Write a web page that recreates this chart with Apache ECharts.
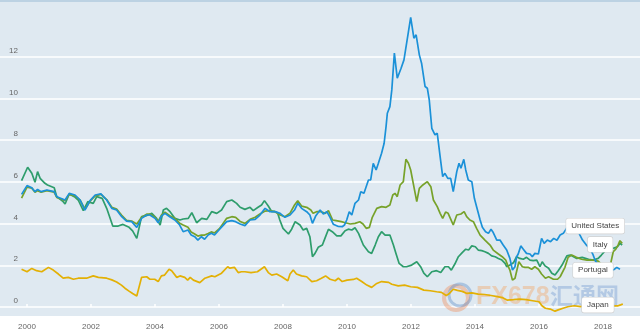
<!DOCTYPE html>
<html><head><meta charset="utf-8">
<script src="https://cdn.jsdelivr.net/npm/echarts@6/dist/echarts.min.js"></script>
<style>html,body{margin:0;padding:0;background:#fff}#c{width:640px;height:333px}</style>
</head><body><div id="c"></div>
<script>
const xTicks = [2000,2002,2004,2006,2008,2010,2012,2014,2016,2018];
const yTicks = [0,2,4,6,8,10,12];
const seriesNames = ['United States','Italy','Portugal','Japan'];

const portugal = [[1999.83,5.40],[2000.0,5.82],[2000.15,5.72],[2000.25,5.53],[2000.33,5.64],[2000.44,5.53],[2000.62,5.61],[2000.85,5.53],[2000.93,5.29],[2001.19,5.13],[2001.32,5.45],[2001.5,5.37],[2001.66,5.13],[2001.81,4.65],[2001.97,5.10],[2002.13,5.37],[2002.31,5.42],[2002.49,5.13],[2002.65,4.73],[2002.8,4.65],[2002.96,4.33],[2003.11,4.12],[2003.27,4.09],[2003.43,3.82],[2003.58,4.25],[2003.74,4.41],[2003.84,4.41],[2004.0,4.25],[2004.1,4.04],[2004.2,4.36],[2004.31,4.49],[2004.46,4.33],[2004.62,4.17],[2004.77,3.93],[2004.88,3.61],[2005.03,3.69],[2005.13,3.45],[2005.24,3.37],[2005.34,3.21],[2005.45,3.37],[2005.55,3.25],[2005.66,3.45],[2005.76,3.53],[2005.86,3.45],[2006.02,3.73],[2006.24,4.09],[2006.4,4.14],[2006.52,4.09],[2006.66,3.98],[2006.81,3.90],[2006.97,4.17],[2007.13,4.20],[2007.28,4.41],[2007.44,4.73],[2007.59,4.57],[2007.75,4.57],[2007.91,4.49],[2008.06,4.30],[2008.22,4.41],[2008.36,4.65],[2008.46,4.97],[2008.58,4.73],[2008.74,4.57],[2008.84,4.41],[2008.92,4.01],[2009.02,4.36],[2009.16,4.65],[2009.26,4.46],[2009.37,4.57],[2009.47,4.30],[2009.57,3.97],[2009.73,3.86],[2009.85,3.85],[2009.92,3.93],[2009.99,4.17],[2010.07,4.57],[2010.15,4.41],[2010.25,4.97],[2010.36,5.13],[2010.43,5.53],[2010.53,5.45],[2010.67,6.09],[2010.74,6.09],[2010.82,6.89],[2010.91,6.57],[2010.98,6.89],[2011.08,7.37],[2011.16,7.85],[2011.22,8.65],[2011.26,9.29],[2011.34,9.61],[2011.4,10.41],[2011.48,12.17],[2011.57,10.97],[2011.69,11.45],[2011.78,11.85],[2011.84,11.93],[2011.92,13.20],[2011.99,13.89],[2012.09,12.89],[2012.16,13.05],[2012.26,12.09],[2012.33,11.69],[2012.44,10.57],[2012.51,10.49],[2012.57,9.93],[2012.65,8.57],[2012.75,8.25],[2012.82,8.33],[2012.91,7.21],[2012.99,6.25],[2013.06,6.41],[2013.15,6.17],[2013.24,6.17],[2013.32,5.53],[2013.43,6.49],[2013.5,6.89],[2013.56,6.65],[2013.65,7.08],[2013.71,6.57],[2013.79,6.09],[2013.9,6.01],[2013.98,5.21],[2014.05,4.81],[2014.16,4.17],[2014.23,3.82],[2014.33,3.61],[2014.42,3.53],[2014.5,3.73],[2014.57,3.57],[2014.68,3.21],[2014.78,3.21],[2014.88,2.97],[2014.99,2.73],[2015.09,2.33],[2015.17,1.77],[2015.25,1.93],[2015.3,2.41],[2015.35,2.54],[2015.43,2.93],[2015.51,2.77],[2015.61,2.57],[2015.72,2.54],[2015.79,2.41],[2015.87,2.57],[2015.98,2.54],[2016.08,3.29],[2016.16,3.05],[2016.26,3.21],[2016.36,3.13],[2016.46,3.29],[2016.56,3.20],[2016.66,3.45],[2016.76,3.53],[2016.86,3.77],[2016.96,3.95],[2017.06,4.05],[2017.16,3.85],[2017.28,3.45],[2017.36,3.21],[2017.48,2.97],[2017.59,2.81],[2017.68,2.54],[2017.75,2.25],[2017.85,2.00],[2017.95,1.90],[2018.05,2.00],[2018.15,1.95],[2018.25,1.75],[2018.35,1.80],[2018.43,1.90],[2018.53,1.81]];

const italy = [[1999.83,5.22],[2000.0,5.75],[2000.15,5.70],[2000.25,5.50],[2000.33,5.58],[2000.44,5.50],[2000.62,5.58],[2000.85,5.50],[2000.93,5.25],[2001.19,5.10],[2001.32,5.40],[2001.5,5.33],[2001.66,5.12],[2001.81,4.68],[2001.97,5.07],[2002.13,5.33],[2002.31,5.40],[2002.49,5.15],[2002.65,4.78],[2002.8,4.70],[2002.96,4.40],[2003.11,4.15],[2003.27,4.12],[2003.43,3.98],[2003.58,4.30],[2003.74,4.45],[2003.84,4.46],[2004.0,4.30],[2004.1,4.10],[2004.2,4.40],[2004.31,4.55],[2004.46,4.38],[2004.62,4.25],[2004.77,4.02],[2004.88,3.93],[2005.03,3.82],[2005.13,3.60],[2005.24,3.50],[2005.34,3.40],[2005.45,3.45],[2005.55,3.45],[2005.66,3.52],[2005.76,3.60],[2005.86,3.55],[2006.02,3.77],[2006.24,4.25],[2006.4,4.33],[2006.52,4.30],[2006.66,4.10],[2006.81,4.01],[2006.97,4.20],[2007.13,4.30],[2007.28,4.46],[2007.44,4.60],[2007.59,4.62],[2007.75,4.57],[2007.91,4.41],[2008.06,4.33],[2008.22,4.50],[2008.36,4.89],[2008.46,5.10],[2008.58,4.84],[2008.74,4.78],[2008.87,4.65],[2008.94,4.49],[2009.05,4.57],[2009.19,4.57],[2009.32,4.49],[2009.42,4.62],[2009.55,4.17],[2009.66,4.14],[2009.82,4.09],[2009.95,4.04],[2010.1,3.98],[2010.25,4.01],[2010.4,4.09],[2010.5,3.98],[2010.6,3.77],[2010.7,3.82],[2010.79,4.30],[2010.93,4.73],[2011.08,4.81],[2011.22,4.78],[2011.34,4.89],[2011.43,5.37],[2011.5,5.45],[2011.57,5.29],[2011.66,5.85],[2011.76,6.01],[2011.84,7.08],[2011.92,6.89],[2011.99,6.57],[2012.07,5.93],[2012.18,5.05],[2012.26,5.69],[2012.37,5.85],[2012.51,6.01],[2012.62,5.77],[2012.7,5.13],[2012.82,4.81],[2012.91,4.49],[2012.99,4.25],[2013.08,4.55],[2013.16,4.49],[2013.23,4.25],[2013.32,3.93],[2013.43,4.41],[2013.56,4.46],[2013.66,4.57],[2013.74,4.33],[2013.84,4.17],[2013.95,4.09],[2014.05,3.77],[2014.16,3.45],[2014.31,3.21],[2014.47,2.97],[2014.57,2.73],[2014.73,2.54],[2014.85,2.41],[2014.96,2.25],[2015.02,2.01],[2015.09,1.77],[2015.17,1.29],[2015.25,1.38],[2015.37,2.17],[2015.48,1.93],[2015.56,1.90],[2015.66,1.90],[2015.77,1.81],[2015.87,1.93],[2015.98,1.81],[2016.08,1.58],[2016.2,1.38],[2016.3,1.45],[2016.45,1.33],[2016.58,1.33],[2016.66,1.45],[2016.81,1.90],[2016.91,2.38],[2017.02,2.49],[2017.17,2.38],[2017.33,2.29],[2017.5,2.25],[2017.7,2.25],[2017.85,2.20],[2017.95,2.05],[2018.05,2.00],[2018.15,2.00],[2018.22,1.95],[2018.27,2.01],[2018.32,2.65],[2018.4,2.77],[2018.47,2.97],[2018.53,3.18],[2018.6,3.05]];

const unitedStates = [[1999.83,6.06],[2000.02,6.70],[2000.15,6.41],[2000.25,5.98],[2000.33,6.49],[2000.41,6.17],[2000.56,5.93],[2000.64,5.85],[2000.85,5.72],[2000.93,5.29],[2001.13,5.05],[2001.19,4.94],[2001.32,5.42],[2001.48,5.29],[2001.6,5.13],[2001.76,4.62],[2001.9,5.05],[2002.07,4.97],[2002.18,5.29],[2002.35,5.21],[2002.49,4.73],[2002.68,3.88],[2002.85,3.88],[2003.0,3.96],[2003.19,3.82],[2003.3,3.65],[2003.43,3.29],[2003.58,4.33],[2003.68,4.36],[2003.79,4.41],[2003.9,4.49],[2004.05,4.25],[2004.16,3.93],[2004.26,4.65],[2004.36,4.73],[2004.47,4.57],[2004.62,4.25],[2004.78,4.17],[2004.88,4.22],[2005.04,4.25],[2005.15,4.52],[2005.3,4.04],[2005.46,4.25],[2005.62,4.20],[2005.77,4.57],[2005.93,4.49],[2006.08,4.65],[2006.24,5.05],[2006.4,5.13],[2006.55,4.97],[2006.66,4.78],[2006.81,4.68],[2006.97,4.78],[2007.07,4.62],[2007.22,4.78],[2007.33,4.89],[2007.42,5.10],[2007.54,4.84],[2007.65,4.57],[2007.75,4.57],[2007.83,4.52],[2007.9,4.17],[2008.0,3.77],[2008.17,3.50],[2008.27,3.73],[2008.38,4.09],[2008.53,3.93],[2008.63,3.69],[2008.74,3.77],[2008.84,3.37],[2008.92,2.41],[2009.0,2.57],[2009.1,2.86],[2009.23,2.97],[2009.31,3.29],[2009.42,3.73],[2009.54,3.61],[2009.68,3.41],[2009.81,3.41],[2009.94,3.66],[2010.04,3.73],[2010.15,3.69],[2010.25,3.80],[2010.36,3.53],[2010.51,2.97],[2010.67,2.65],[2010.77,2.57],[2010.88,2.97],[2010.98,3.37],[2011.08,3.61],[2011.19,3.45],[2011.34,3.45],[2011.45,2.97],[2011.53,2.57],[2011.63,2.09],[2011.76,1.93],[2011.86,1.93],[2012.02,2.01],[2012.18,2.17],[2012.3,1.93],[2012.4,1.62],[2012.51,1.45],[2012.65,1.69],[2012.8,1.74],[2012.93,1.65],[2013.06,1.93],[2013.17,1.93],[2013.26,1.77],[2013.37,2.06],[2013.48,2.41],[2013.6,2.61],[2013.71,2.77],[2013.8,2.73],[2013.9,2.93],[2014.01,2.89],[2014.1,2.73],[2014.21,2.70],[2014.31,2.65],[2014.42,2.57],[2014.52,2.45],[2014.63,2.41],[2014.73,2.33],[2014.84,2.25],[2014.94,2.09],[2014.99,1.93],[2015.09,2.01],[2015.2,2.12],[2015.3,2.41],[2015.4,2.33],[2015.51,2.29],[2015.61,2.38],[2015.72,2.25],[2015.82,2.22],[2015.93,2.25],[2016.03,1.93],[2016.1,2.17],[2016.19,1.97],[2016.3,1.86],[2016.4,1.62],[2016.5,1.53],[2016.6,1.74],[2016.72,2.01],[2016.87,2.45],[2016.98,2.49],[2017.18,2.33],[2017.35,2.38],[2017.55,2.29],[2017.7,2.25],[2017.85,2.33],[2017.95,2.49],[2018.1,2.75],[2018.2,2.85],[2018.32,2.81],[2018.45,2.89],[2018.53,3.05],[2018.6,2.97]];

const japan = [[1999.83,1.81],[2000.0,1.69],[2000.15,1.85],[2000.3,1.74],[2000.46,1.69],[2000.67,1.90],[2000.82,1.77],[2000.98,1.58],[2001.13,1.38],[2001.29,1.42],[2001.45,1.33],[2001.6,1.38],[2001.86,1.38],[2002.07,1.49],[2002.23,1.42],[2002.49,1.38],[2002.65,1.30],[2002.8,1.20],[2002.95,1.05],[2003.06,0.90],[2003.2,0.75],[2003.3,0.65],[2003.43,0.53],[2003.58,1.42],[2003.74,1.45],[2003.84,1.33],[2003.99,1.33],[2004.1,1.22],[2004.2,1.49],[2004.3,1.53],[2004.44,1.81],[2004.52,1.74],[2004.68,1.42],[2004.78,1.49],[2004.93,1.42],[2005.02,1.29],[2005.1,1.42],[2005.2,1.29],[2005.4,1.17],[2005.56,1.38],[2005.77,1.49],[2005.87,1.45],[2006.08,1.62],[2006.27,1.93],[2006.34,1.86],[2006.48,1.90],[2006.6,1.65],[2006.7,1.69],[2006.81,1.69],[2007.0,1.65],[2007.2,1.69],[2007.42,1.93],[2007.54,1.65],[2007.65,1.53],[2007.8,1.58],[2007.96,1.45],[2008.15,1.26],[2008.22,1.58],[2008.32,1.77],[2008.42,1.58],[2008.58,1.49],[2008.74,1.45],[2008.9,1.22],[2009.05,1.26],[2009.2,1.38],[2009.33,1.49],[2009.47,1.33],[2009.63,1.26],[2009.73,1.38],[2009.85,1.22],[2010.0,1.29],[2010.2,1.32],[2010.3,1.38],[2010.46,1.22],[2010.62,1.05],[2010.77,0.94],[2010.93,1.13],[2011.08,1.22],[2011.3,1.18],[2011.4,1.09],[2011.6,1.01],[2011.8,1.05],[2011.99,0.97],[2012.2,0.94],[2012.4,0.81],[2012.6,0.78],[2012.8,0.73],[2012.95,0.70],[2013.1,0.55],[2013.2,0.65],[2013.32,0.85],[2013.45,0.80],[2013.6,0.75],[2013.75,0.65],[2013.9,0.68],[2014.1,0.62],[2014.3,0.60],[2014.5,0.55],[2014.7,0.50],[2014.85,0.45],[2015.0,0.33],[2015.2,0.35],[2015.4,0.38],[2015.6,0.35],[2015.8,0.30],[2016.0,0.25],[2016.1,0.05],[2016.2,-0.06],[2016.35,-0.10],[2016.5,-0.20],[2016.6,-0.14],[2016.75,-0.06],[2016.9,0.01],[2017.1,0.06],[2017.3,0.02],[2017.5,0.05],[2017.7,0.05],[2017.9,0.05],[2018.1,0.07],[2018.3,0.05],[2018.45,0.05],[2018.55,0.10],[2018.62,0.14]];

const FONT = '"Liberation Sans", Arial, sans-serif';
const chart = echarts.init(document.getElementById('c'), null, {renderer: 'canvas'});

function callout(name, data, dx, dy) {
  const last = data[data.length - 1];
  return {
    symbol: 'circle', symbolSize: 1, silent: true,
    itemStyle: {color: 'rgba(0,0,0,0)'},
    label: {
      show: true, position: 'inside', offset: [dx, dy],
      formatter: name, fontFamily: FONT, fontSize: 8, color: '#444',
      backgroundColor: '#ffffff', borderColor: '#d0d0d0', borderWidth: 0.6,
      borderRadius: 2, padding: [4, 5, 3, 5]
    },
    data: [{coord: last}]
  };
}

function line(name, data, color, dx, dy) {
  return {
    name: name, type: 'line', data: data, showSymbol: false, smooth: false,
    lineStyle: {color: color, width: 1.7}, itemStyle: {color: color},
    animation: false, z: 3,
    markPoint: callout(name, data, dx, dy)
  };
}

chart.setOption({
  animation: false,
  grid: {left: 0, right: 0, top: 0, bottom: 17, show: true, backgroundColor: '#dfe9f1', borderWidth: 0},
  xAxis: {
    type: 'value', min: 1999.156, max: 2019.156,
    axisLine: {show: false},
    axisTick: {show: true, inside: true, length: 3, customValues: xTicks, lineStyle: {color: '#ffffff', width: 1.5}},
    axisLabel: {customValues: xTicks, margin: 7, fontFamily: FONT, fontSize: 8, color: '#666', formatter: v => String(v)},
    splitLine: {show: false}
  },
  yAxis: {
    type: 'value', min: -0.432, max: 14.72,
    axisLine: {show: false},
    axisTick: {show: false, customValues: yTicks},
    axisLabel: {customValues: yTicks, inside: true, margin: 18, align: 'right', verticalAlign: 'bottom', padding: [0,0,2,0],
      fontFamily: FONT, fontSize: 8, color: '#666', formatter: v => String(v)},
    splitLine: {show: true, lineStyle: {color: '#ffffff', width: 1.5}}
  },
  graphic: [
    {type: 'rect', shape: {x: 0, y: 0, width: 640, height: 2}, style: {fill: '#bcd2e3'}, z: 10},
    {type: 'circle', shape: {cx: 456, cy: 298, r: 12}, style: {fill: 'none', stroke: 'rgba(240,140,90,0.4)', lineWidth: 4}, z: 1},
    {type: 'circle', shape: {cx: 460, cy: 295, r: 11}, style: {fill: 'none', stroke: 'rgba(90,140,200,0.4)', lineWidth: 3}, z: 1},
    {type: 'text', left: 476, top: 285, style: {text: 'FX678', font: 'bold 25px "Liberation Sans", Arial, sans-serif', fill: 'rgba(245,160,90,0.38)'}, z: 1},
    {type: 'text', left: 550, top: 284, style: {text: '汇通网', font: 'bold 23px "Noto Sans CJK SC", sans-serif', fill: 'rgba(80,130,200,0.3)'}, z: 1}
  ],
  series: [
    line('Japan', japan, '#e3b004', -25, 1),
    line('United States', unitedStates, '#2e9d6c', -27, -19),
    line('Italy', italy, '#77a22a', -22, 1),
    line('Portugal', portugal, '#1b91d8', -27, 1)
  ]
});
</script>
</body></html>
